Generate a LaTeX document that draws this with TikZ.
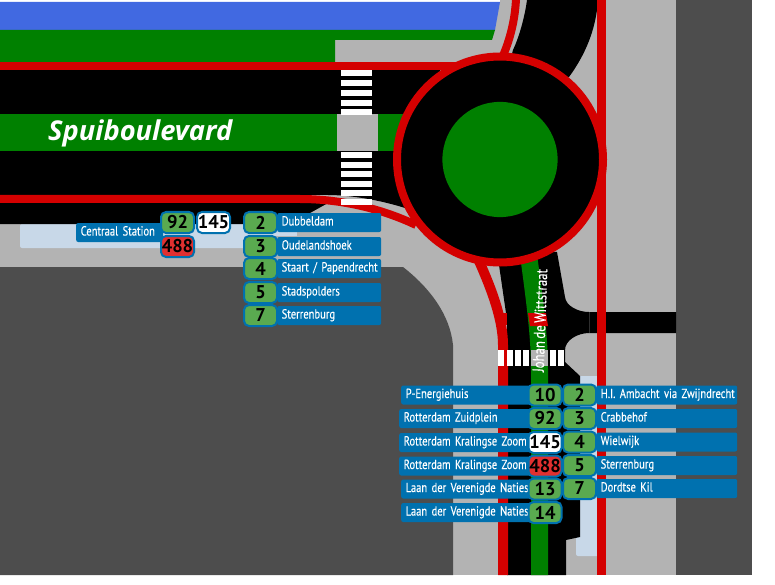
\documentclass[tikz,border=0pt]{standalone}
\usepackage{fontspec}
\setmainfont{PT Sans}[FakeStretch=0.8,WordSpace=0.7,FakeBold=0.25]
\newfontfamily\nrfont{PT Sans}
\newfontfamily\namefont{Open Sans}
\definecolor{water}{HTML}{4169E1}
\definecolor{grass}{HTML}{008000}
\definecolor{buslane}{HTML}{D40000}
\definecolor{walk}{HTML}{B3B3B3}
\definecolor{land}{HTML}{4D4D4D}
\definecolor{platform}{HTML}{C8D8E8}
\definecolor{linefill}{HTML}{0071AF}
\definecolor{nrgreen}{HTML}{5AAA50}
\definecolor{nrred}{HTML}{E03030}
\tikzset{linelabel/.style={anchor=west,fill=linefill,text=white,rounded corners=2pt,
           font=\fontsize{13.2}{15}\selectfont,align=left,text width=#1,
           inner xsep=4.5pt,inner ysep=4pt,text height=8.5pt,text depth=2.5pt},
         linenr/.style={draw=linefill,line width=2pt,rounded corners=5pt,fill=#1,
           minimum width=33pt,minimum height=21pt,inner sep=0pt,text=black,
           font=\nrfont\bfseries\fontsize{18.5}{20}\selectfont},
         stripe/.style={fill=white,draw=none}}
\begin{document}
\begin{tikzpicture}[x=1pt,y=-1pt]
\useasboundingbox (0,0) rectangle (775,585);
% Ground:
\fill[walk] (0,0) rectangle (752,575);
\fill[land] (676,0) rectangle (752,575);
\fill[land] (0,267) -- (403,267) .. controls (430,288) and (450,315) .. (453,345) -- (453,575) -- (0,575) -- cycle;
\fill[white] (0,0) rectangle (500,2);
\fill[water] (0,2) -- (500,2) -- (495,30) -- (0,30) -- cycle;
\fill[grass] (0,30) -- (495,30) -- (492,40) -- (335,40) -- (335,62) -- (0,62) -- cycle;
\fill[platform,rounded corners=2pt] (20,224) rectangle (250,248);
\fill[platform] (240,224) rectangle (297,236);
\fill[platform,rounded corners=2pt] (576,376) rectangle (600,556);
\fill[walk] (566,376) rectangle (580,537);
\fill[platform] (580,376) rectangle (600,540);
% Roads:
\fill[black] (0,70) -- (440,70) -- (440,215) -- (405,208) .. controls (380,200) and (350,195) .. (328,195) -- (0,195) -- cycle;
\fill[black] (0,199) -- (328,203) -- (310,213) -- (300,224) -- (0,224) -- cycle;
\fill[black] (527,0) -- (598,0) .. controls (596,30) and (585,55) .. (569,77) -- (500,100) -- (513,50) .. controls (520,35) and (525,15) .. cycle;
\fill[black] (495,250) -- (499,265) -- (507,320) -- (507,575) -- (566,575) -- (566,540) -- (580,537) -- (580,376) -- (565,362) -- (565,350)
  .. controls (565,340) and (578,333) .. (589,333) -- (676,333) -- (676,312) -- (589,312)
  .. controls (578,312) and (566,306) .. (565,297) -- (557,252) -- cycle;
\draw[land!60!black,line width=0.5pt] (589,312) -- (589,333);
% Medians:
\fill[grass] (0,114) rectangle (420,151);
\fill[walk] (337,114) rectangle (378,151);
\draw[grass,line width=17pt] (528.5,255) .. controls (536,310) and (539.5,340) .. (539.5,370) -- (539.5,575);
\fill[buslane] (528,313) -- (546,313) -- (548,326) -- (530,326) -- cycle;
\fill[walk] (531,350) rectangle (548,366);
% Crossings:
\foreach \y in {70.5,80,90,100,109,152,162,171,181,190}
  \fill[stripe] (341,\y) rectangle (372,\y+6);
\foreach \x in {523,550,558}
  \fill[stripe] (\x,350) rectangle (\x+6,366);
\fill[stripe] (515,350) rectangle (521,366);
% Bus lanes:
\draw[buslane,line width=8pt] (0,66) -- (470,66);
\draw[buslane,line width=8pt] (0,199) -- (300,199) .. controls (340,199) and (380,208) .. (416,225);
\draw[buslane,line width=8pt] (516,-1) .. controls (515,20) and (510,40) .. (502,58);
\draw[buslane,line width=10pt] (479,261) .. controls (492,290) and (503,320) .. (503,345) -- (503,575);
\fill[buslane] (500,313) rectangle (507,325);
\draw[buslane,line width=9pt] (601.5,0) -- (601.5,575);
\fill[stripe] (341,199) rectangle (372,205);
\foreach \x in {498,507}
  \fill[stripe] (\x,350) rectangle (\x+6,366);
% Roundabout:
\draw[buslane,fill=black,line width=8pt] (500,159.5) circle (103);
\fill[grass] (500,159.5) circle (57.6);
% Names:
\node[font=\namefont\bfseries\itshape\fontsize{27.3}{30}\selectfont,text=white,anchor=base west,inner sep=0pt] (spuiname) at (48,141) {Spuiboulevard};
\node[font=\fontsize{16}{18}\selectfont,text=white,rotate=88,inner sep=0pt] (wittname) at (540,320.5) {Johan de Wittstraat};
% Stop Centraal Station:
\node[linelabel=78pt] (lblcentraal) at (76,232.5) {\mbox{Centraal Station}};
\node[linenr=nrgreen] (nrw92) at (177.5,222.5) {92};
\node[linenr=white] (nrw145) at (213.5,222.5) {145};
\node[linenr=nrred] (nrw488) at (177.5,246.5) {488};
% Stop Spuiboulevard:
\foreach \y/\nr/\dest in {222.5/2/Dubbeldam,246.5/3/Oudelandshoek,268.5/4/{Staart / Papendrecht},292.5/5/Stadspolders,315.5/7/Sterrenburg}{
  \node[linelabel=95pt] (lblw\nr) at (277,\y) {\mbox{\dest}};
  \node[linenr=nrgreen] (nrs\nr) at (260.5,\y) {\nr};
}
% Stop Johan de Wittstraat, south side:
\foreach \y/\nr/\col/\xa/\dest in {395/10/nrgreen/401/P-Energiehuis,418.5/92/nrgreen/399/Rotterdam Zuidplein,442.5/145/white/399/Rotterdam Kralingse Zoom,466/488/nrred/399/Rotterdam Kralingse Zoom,489/13/nrgreen/401/Laan der Verenigde Naties,512.5/14/nrgreen/401/Laan der Verenigde Naties}{
  \node[linelabel=124pt] (lblz\nr) at (\xa,\y) {\mbox{\dest}};
  \node[linenr=\col] (nrz\nr) at (545,\y) {\nr};
}
\foreach \y/\nr/\dest in {395/2/H.I. Ambacht via Zwijndrecht,418.5/3/Crabbehof,442/4/Wielwijk,465.5/5/Sterrenburg,488.5/7/Dordtse Kil}{
  \node[linelabel=132pt] (lbln\nr) at (596,\y) {\mbox{\dest}};
  \node[linenr=nrgreen] (nrn\nr) at (579.5,\y) {\nr};
}
\end{tikzpicture}
\end{document}
